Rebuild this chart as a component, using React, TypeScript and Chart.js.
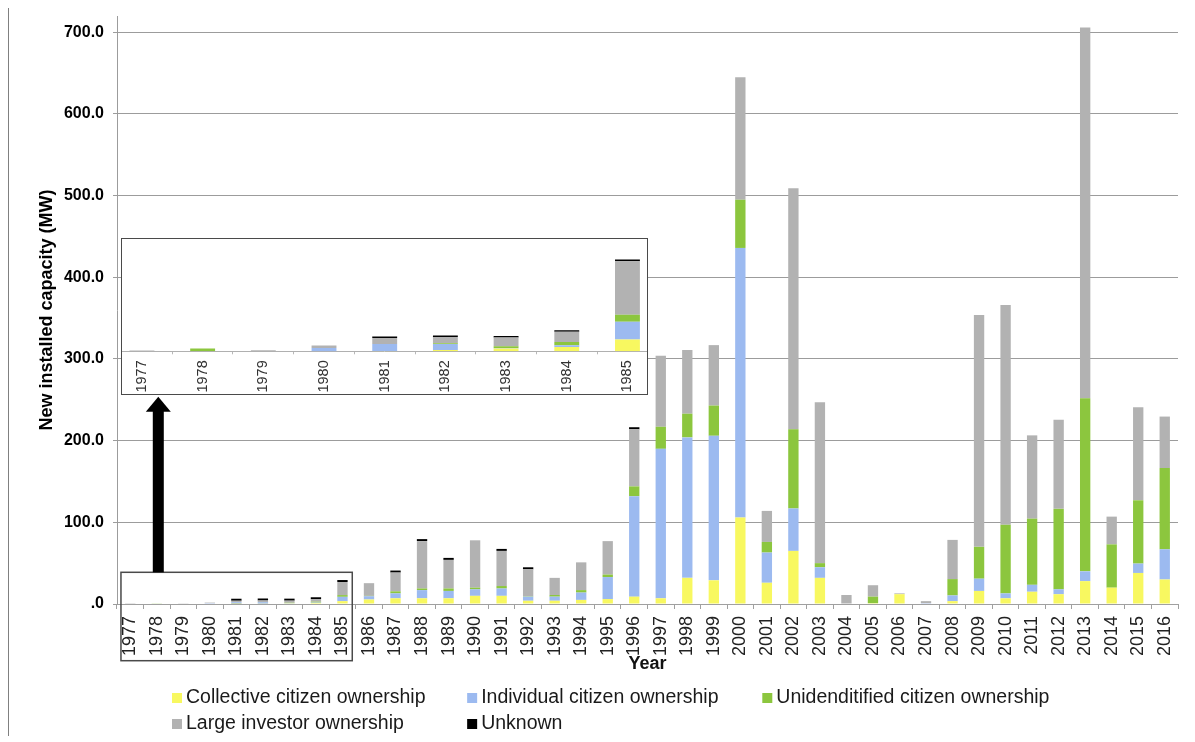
import React, { useEffect, useRef } from 'react';
import { Chart, registerables } from 'chart.js';

Chart.register(...registerables);

const FONT = '"Liberation Sans", Arial, Helvetica, sans-serif';
Chart.defaults.font.family = FONT;

// ---- data (MW) ----
const years = [
  '1977', '1978', '1979', '1980', '1981', '1982', '1983', '1984', '1985', '1986',
  '1987', '1988', '1989', '1990', '1991', '1992', '1993', '1994', '1995', '1996',
  '1997', '1998', '1999', '2000', '2001', '2002', '2003', '2004', '2005', '2006',
  '2007', '2008', '2009', '2010', '2011', '2012', '2013', '2014', '2015', '2016',
];

const collective = [
  0, 0, 0, 0, 0.1, 0.4, 0.8, 1.3, 3.5, 5.5,
  7, 7, 7, 10, 10, 4, 4, 5, 6, 9,
  7, 32, 29, 106, 26, 65, 32, 0, 1, 12,
  0, 3.5, 16, 7, 15, 12, 28, 20, 38, 30,
];

const individual = [
  0, 0, 0, 1.0, 2.1, 1.8, 0.2, 0.5, 5.3, 4,
  6, 10, 9, 8, 9, 5, 5, 9, 27, 123,
  183, 172, 177, 330, 37, 52, 13, 0, 0, 0,
  1, 7, 15, 6, 8.5, 6, 12, 0, 11.5, 37,
];

const unidentified = [
  0, 0.8, 0, 0, 0, 0.2, 0.5, 1.0, 2.1, 0.5,
  2.5, 2, 3, 2, 3, 0.5, 2, 3, 3, 12,
  27, 29, 37, 59, 13, 97, 5, 0, 8, 0,
  0, 20, 39, 84, 81, 98.5, 212, 53, 77.5, 99.5,
];

const largeInvestor = [
  0.25, 0, 0.35, 0.7, 1.8, 1.9, 2.6, 3.0, 16, 15.5,
  23, 58, 35, 58, 43, 33, 21, 34, 41, 70,
  87, 78, 74, 150, 38, 295, 197, 11, 14, 1,
  2.5, 48, 284, 269, 102, 109, 454, 34, 114, 63,
];

const unknown = [
  null, null, null, null, 0.4, 0.4, 0.3, 0.3, 0.5, null,
  1.2, 1, 1, null, 1.2, 0.8, null, null, null, 1.5,
  null, null, null, null, null, null, null, null, null, null,
  null, null, null, null, null, null, null, null, null, null,
];

const seriesLabels = [
  'Collective citizen ownership',
  'Individual citizen ownership',
  'Unidenditified citizen ownership',
  'Large investor ownership',
  'Unknown',
];
const seriesColors = ['#f8f860', '#9cbaf0', '#8cc63e', '#b2b2b2', '#000000'];
const yTicks = [0, 100, 200, 300, 400, 500, 600, 700];
const insetCount = 9; // 1977–1985 shown in the zoomed inset
const insetMax = 30;

const allSeries = [collective, individual, unidentified, largeInvestor, unknown];

// ---- layout constants (page px; wrapper sits at the 8px body margin) ----
const OFF = 8;
const CW = 1187;
const CH = 736;
const INSET = { left: 114, top: 231, width: 525, height: 155 }; // wrapper-relative

function makeDatasets(count: number, barPct: number, minUnknown: number) {
  return allSeries.map((d, i) => ({
    label: seriesLabels[i],
    data: d.slice(0, count),
    backgroundColor: seriesColors[i],
    borderWidth: 0,
    barPercentage: barPct,
    categoryPercentage: 1,
    stack: 's',
    ...(i === 4 ? { minBarLength: minUnknown } : {}),
  }));
}

const decorPlugin = {
  id: 'decor',
  afterDraw(chart: any) {
    const ctx = chart.ctx;
    const xs = chart.scales.x;
    const ys = chart.scales.y;
    ctx.save();
    // page rule at the left
    ctx.fillStyle = '#808080';
    ctx.fillRect(7, 7, 2, 730);
    // box around the zoomed years' labels
    const left = xs.getPixelForValue(0) - 9.3;
    const right = xs.getPixelForValue(insetCount - 1) + 9.8;
    const top = ys.bottom - 31.7;
    const bottom = ys.bottom + 56.7;
    ctx.strokeStyle = '#4a4a4a';
    ctx.lineWidth = 1.5;
    ctx.strokeRect(left, top, right - left, bottom - top);
    // arrow from box up to inset
    const ax = xs.getPixelForValue(1) + 1.5;
    const tipY = OFF + INSET.top + INSET.height + 2.7;
    const headH = 15;
    ctx.fillStyle = '#000';
    ctx.fillRect(ax - 5.5, tipY + headH - 1, 11, top - (tipY + headH - 1));
    ctx.beginPath();
    ctx.moveTo(ax, tipY);
    ctx.lineTo(ax + 12.5, tipY + headH);
    ctx.lineTo(ax - 12.5, tipY + headH);
    ctx.closePath();
    ctx.fill();
    // legend, laid out in equal columns
    ctx.font = `19.5px ${FONT}`;
    const items = chart.data.datasets.map((d: any) => ({ text: d.label, color: d.backgroundColor }));
    const maxW = Math.max(...items.map((it: any) => ctx.measureText(it.text).width));
    const colW = 14 + maxW + 8;
    const cols = 3;
    const x0 = xs.left + 55;
    const rowY = [ys.bottom + 93, ys.bottom + 119];
    ctx.textBaseline = 'middle';
    ctx.textAlign = 'left';
    items.forEach((it: any, i: number) => {
      const c = i % cols;
      const r = Math.floor(i / cols);
      const bx = x0 + c * colW;
      const cy = rowY[r];
      ctx.fillStyle = it.color;
      ctx.fillRect(bx, cy - 4, 10, 10);
      ctx.fillStyle = '#1a1a1a';
      ctx.fillText(it.text, bx + 14, cy + 1);
    });
    ctx.restore();
  },
};

export default function App() {
  const mainRef = useRef<HTMLCanvasElement | null>(null);
  const insetRef = useRef<HTMLCanvasElement | null>(null);

  useEffect(() => {
    if (!mainRef.current || !insetRef.current) return;
    const main = new Chart(mainRef.current, {
      type: 'bar',
      data: { labels: years, datasets: makeDatasets(years.length, 0.39, 2) as any },
      options: {
        animation: false,
        responsive: false,
        devicePixelRatio: 1,
        layout: { padding: { left: 8, top: 16, right: 9, bottom: 54 } },
        plugins: { legend: { display: false }, tooltip: { enabled: false } },
        scales: {
          x: {
            stacked: true,
            grid: { offset: true, drawOnChartArea: false, drawTicks: true, tickLength: 5, color: '#a0a0a0' },
            border: { color: '#a0a0a0' },
            ticks: {
              autoSkip: false, minRotation: 90, maxRotation: 90, padding: 7,
              color: '#222', font: { family: FONT, size: 18 },
            },
            title: {
              display: true, text: 'Year', color: '#111',
              font: { family: FONT, size: 18, weight: 'bold' }, padding: { top: 0, bottom: 7 },
            },
            afterFit: (s: any) => { s.height = 78; s.paddingLeft = 0; s.paddingRight = 0; },
          },
          y: {
            stacked: true, min: 0, max: 720,
            afterBuildTicks: (s: any) => { s.ticks = yTicks.map((v) => ({ value: v })); },
            grid: { color: '#9c9c9c', tickLength: 4, drawTicks: true },
            border: { color: '#9c9c9c' },
            ticks: {
              padding: 9, color: '#000', font: { family: FONT, size: 16, weight: 'bold' },
              callback: (v: any) => (Number(v) === 0 ? '.0' : Number(v).toFixed(1)),
            },
            title: {
              display: true, text: 'New installed capacity (MW)', color: '#000',
              font: { family: FONT, size: 18, weight: 'bold' }, padding: { top: 28, bottom: 0 },
            },
            afterFit: (s: any) => { s.width = 109; s.paddingTop = 0; s.paddingBottom = 0; },
          },
        },
      } as any,
      plugins: [decorPlugin],
    });

    const inset = new Chart(insetRef.current, {
      type: 'bar',
      data: { labels: years.slice(0, insetCount), datasets: makeDatasets(insetCount, 0.41, 1.5) as any },
      options: {
        animation: false,
        responsive: false,
        devicePixelRatio: 1,
        layout: { padding: { left: 0.6, top: 11.8, right: 1.2, bottom: 0 } },
        plugins: { legend: { display: false }, tooltip: { enabled: false } },
        scales: {
          x: {
            stacked: true,
            grid: { offset: true, drawOnChartArea: false, drawTicks: true, tickLength: 3, color: '#b8b8b8' },
            border: { color: '#b0b0b0' },
            ticks: {
              autoSkip: false, minRotation: 90, maxRotation: 90, padding: 6,
              color: '#333', font: { family: FONT, size: 14.5 },
            },
            afterFit: (s: any) => { s.height = 42.7; s.paddingLeft = 0; s.paddingRight = 0; },
          },
          y: {
            stacked: true, min: 0, max: insetMax, display: false,
          },
        },
      } as any,
    });

    return () => {
      main.destroy();
      inset.destroy();
    };
  }, []);

  return (
    <div style={{ position: 'relative', width: CW - OFF, height: CH - OFF, fontFamily: FONT }}>
      <canvas ref={mainRef} width={CW} height={CH} style={{ position: 'absolute', left: -OFF, top: -OFF }} />
      <div
        style={{
          position: 'absolute', left: INSET.left, top: INSET.top, width: INSET.width, height: INSET.height,
          overflow: 'hidden', background: '#fff',
        }}
      >
        <canvas ref={insetRef} width={548} height={155} style={{ position: 'absolute', left: -11, top: 0 }} />
      </div>
      <div
        style={{
          position: 'absolute', left: INSET.left - 0.75, top: INSET.top - 0.75,
          width: INSET.width, height: INSET.height, border: '1.5px solid #4a4a4a', pointerEvents: 'none',
        }}
      />
    </div>
  );
}
